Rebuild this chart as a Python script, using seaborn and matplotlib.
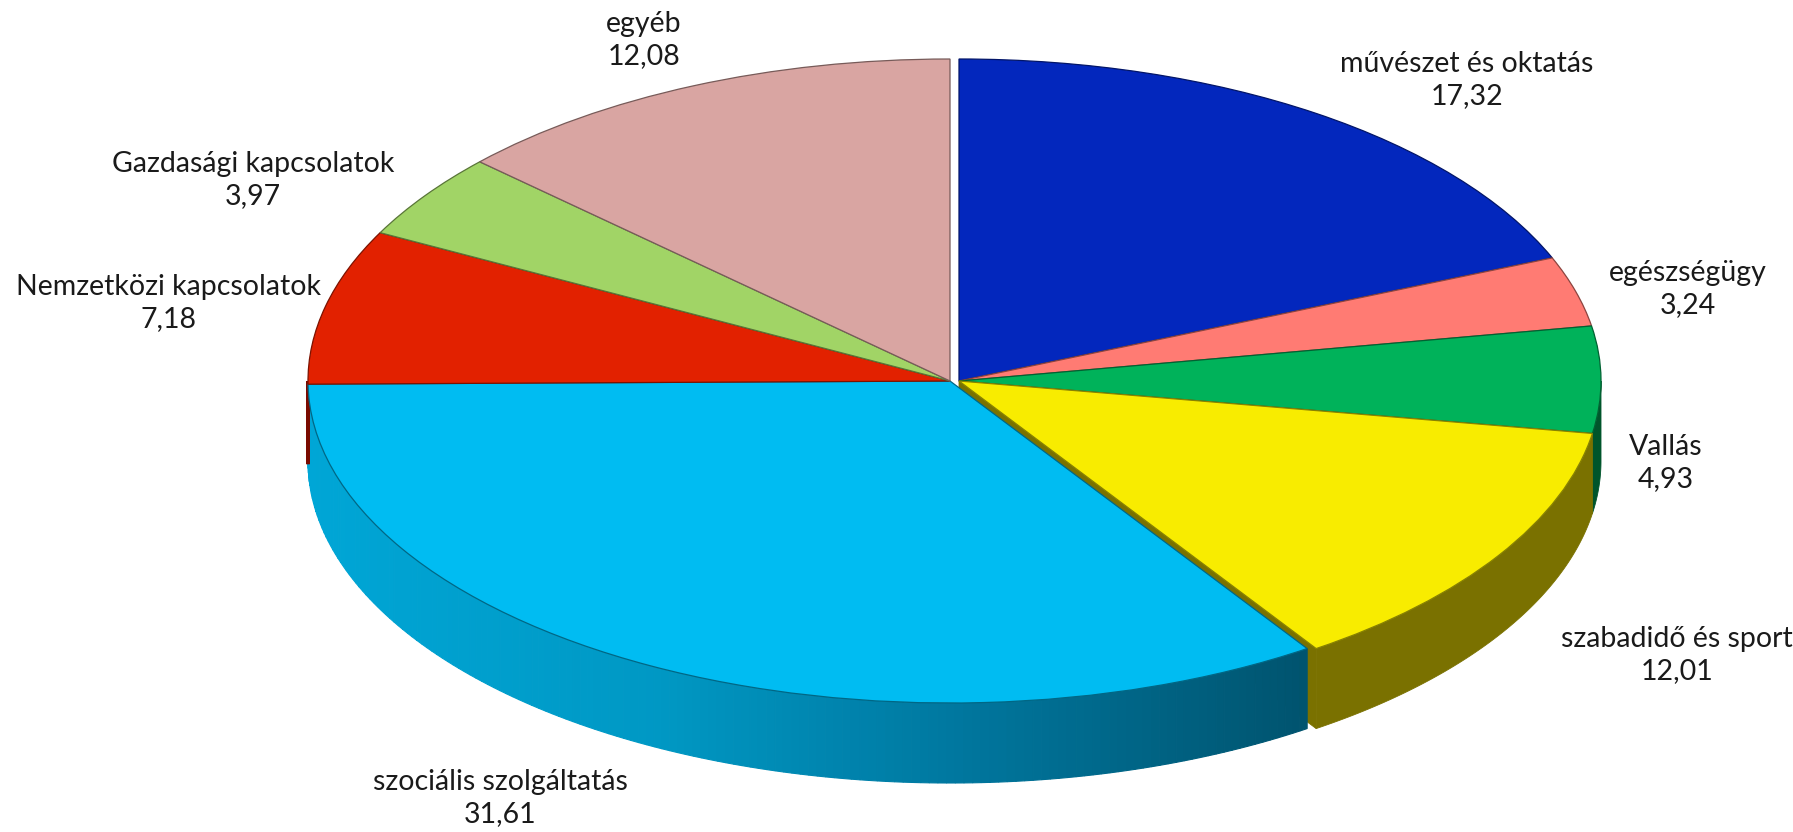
import numpy as np
import matplotlib
matplotlib.use('Agg')
import matplotlib.pyplot as plt
import seaborn as sns
from matplotlib.colors import to_rgb
from matplotlib.patches import Polygon

# adatok (a kép alapján)
categories = ['művészet és oktatás', 'egészségügy', 'Vallás', 'szabadidő és sport',
              'szociális szolgáltatás', 'Nemzetközi kapcsolatok', 'Gazdasági kapcsolatok', 'egyéb']
values = [17.32, 3.24, 4.93, 12.01, 31.61, 7.18, 3.97, 12.08]
top_colors = ['#0327BD', '#FF7B73', '#00B25A', '#F8EC00', '#00BCF2', '#E22100', '#A1D466', '#D9A5A2']
side_colors = ['#021870', '#8C3A36', '#00552B', '#7A7100', None, '#7A0A00', '#56762F', '#7A5250']
# a jobb oldali csoport kicsit el van tolva
shifted = [True, True, True, True, False, False, False, False]

# címkék helye (képpont, bal felső sarokból)
label_pos = [(1467, 80), (1688, 289), (1666, 463), (1677, 655),
             (500, 798), (169, 303), (253, 180), (644, 40)]

# oldalfal színátmenet a szociális szeletnél
grad_x = [-1.0, -0.45, 0.0, 0.56]
grad_c = ['#00A6D6', '#0098C4', '#0078A0', '#00536E']

sns.set_theme(style='white')
plt.rcParams['font.family'] = ['Lato', 'DejaVu Sans']

W, H = 1793, 832
cx, cy = 950, 381
rx, ry = 642, 322
depth = 80 / ry
shift = 9 / rx

fig = plt.figure(figsize=(W / 100, H / 100), dpi=100)
ax = fig.add_axes([0, 0, 1, 1])

frac = np.array(values) / sum(values)
ends = 90 - 360 * np.cumsum(frac)
starts = ends + 360 * frac


def darker(c, f=0.55):
    r, g, b = to_rgb(c)
    return (r * f, g * f, b * f)


def grad_color(x):
    rgb = np.array([to_rgb(c) for c in grad_c])
    return tuple(np.interp(x, grad_x, rgb[:, k]) for k in range(3))


def wall(lo, hi, ox, color, z=1.2, lw=0.6, ec=None):
    t = np.radians(np.linspace(lo, hi, 80))
    xs = ox + np.cos(t)
    ys = np.sin(t)
    pts = np.vstack([np.column_stack([xs, ys]), np.column_stack([xs[::-1], ys[::-1] - depth])])
    ax.add_patch(Polygon(pts, closed=True, facecolor=color, edgecolor=ec or color, lw=lw, zorder=z))


# szabadidő szelet vágott lapja (látszik az eltolás miatt)
a = np.radians(ends[3])
face = [(shift, 0), (shift + np.cos(a), np.sin(a)), (shift + np.cos(a), np.sin(a) - depth), (shift, -depth)]
ax.add_patch(Polygon(face, closed=True, facecolor=side_colors[3], edgecolor=side_colors[3], lw=0.6, zorder=1))

# oldalfalak az elülső félkörön
for i in range(len(values)):
    ox = shift if shifted[i] else 0
    lo, hi = ends[i], starts[i]
    for off in (0, 360):
        l2, h2 = max(lo + off, -180), min(hi + off, 0)
        if h2 <= l2:
            continue
        if side_colors[i] is None:
            edges = np.linspace(l2, h2, 160)
            for e0, e1 in zip(edges[:-1], edges[1:]):
                xm = ox + np.cos(np.radians((e0 + e1) / 2))
                wall(e0, e1, ox, grad_color(xm), lw=0.8)
        elif h2 - l2 < 2:
            wall(l2, h2, ox, side_colors[i], lw=2.5, ec=side_colors[i])
        else:
            wall(l2, h2, ox, side_colors[i])

# felső lap
wedges, _ = ax.pie(values, colors=top_colors, startangle=90, counterclock=False, radius=1,
                   wedgeprops=dict(linewidth=0.9))
for i, w in enumerate(wedges):
    w.set_edgecolor(darker(top_colors[i]))
    w.set_zorder(2)
    if shifted[i]:
        w.set_center((shift, 0))

ax.set_aspect('auto')
ax.set_xlim(-cx / rx, (W - cx) / rx)
ax.set_ylim((cy - H) / ry, cy / ry)
ax.axis('off')

for name, v, (px, py) in zip(categories, values, label_pos):
    txt = name + '\n' + f'{v:.2f}'.replace('.', ',')
    fig.text(px / W, 1 - py / H, txt, ha='center', va='center', fontsize=20.5,
             color='#1a1a1a', linespacing=1.25)

fig.savefig('out.png', dpi=100, facecolor='white')
